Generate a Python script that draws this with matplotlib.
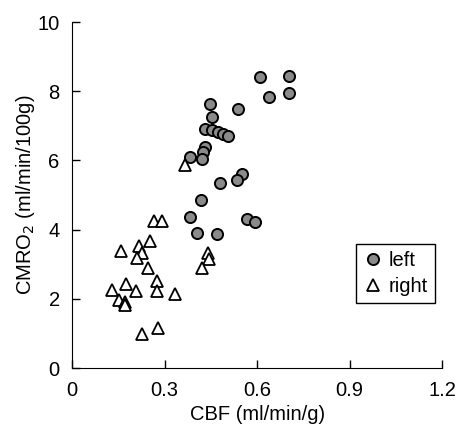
import matplotlib.pyplot as plt

plt.rcParams['font.family'] = ['Liberation Sans', 'DejaVu Sans']

# left hemisphere (circles)
left_cbf = [0.61, 0.704, 0.639, 0.704, 0.448, 0.538, 0.454,
            0.431, 0.452, 0.472, 0.49, 0.507,
            0.431, 0.425, 0.383, 0.422,
            0.551, 0.535, 0.48, 0.418, 0.383, 0.568, 0.594, 0.405, 0.47]
left_cmro2 = [8.41, 8.44, 7.83, 7.95, 7.63, 7.49, 7.25,
              6.91, 6.87, 6.83, 6.77, 6.7,
              6.39, 6.24, 6.1, 6.04,
              5.6, 5.43, 5.35, 4.86, 4.36, 4.3, 4.22, 3.9, 3.87]

# right hemisphere (triangles)
right_cbf = [0.367, 0.266, 0.292, 0.253, 0.159, 0.217, 0.227, 0.211, 0.246,
             0.441, 0.444, 0.422, 0.276, 0.276, 0.175, 0.13, 0.208, 0.334,
             0.152, 0.172, 0.172, 0.227, 0.279]
right_cmro2 = [5.87, 4.25, 4.25, 3.67, 3.38, 3.53, 3.32, 3.18, 2.89,
               3.32, 3.15, 2.89, 2.51, 2.23, 2.43, 2.25, 2.23, 2.14,
               1.97, 1.91, 1.82, 0.98, 1.16]

x_ticks = [0, 0.3, 0.6, 0.9, 1.2]
x_labels = ['0', '0.3', '0.6', '0.9', '1.2']
y_ticks = [0, 2, 4, 6, 8, 10]

fs = 14.5

fig = plt.figure(figsize=(4.6, 4.25), dpi=100)
ax = fig.add_axes([0.157, 0.134, 0.804, 0.814])

ax.plot(left_cbf, left_cmro2, 'o', color='#8a8a8a', markeredgecolor='black',
        markeredgewidth=1.4, markersize=8, label='left')
ax.plot(right_cbf, right_cmro2, '^', color='white', markeredgecolor='black',
        markeredgewidth=1.3, markersize=9, label='right')

ax.set_xlim(0, 1.2)
ax.set_ylim(0, 10)
ax.set_xticks(x_ticks)
ax.set_xticklabels(x_labels)
ax.set_yticks(y_ticks)
ax.tick_params(direction='in', length=6, width=1, labelsize=fs)
ax.tick_params(axis='x', pad=9)
ax.tick_params(axis='y', pad=9)
ax.spines['top'].set_visible(False)
ax.spines['right'].set_visible(False)

ax.set_xlabel('CBF (ml/min/g)', fontsize=fs, labelpad=4)
ax.set_ylabel('CMRO$_2$ (ml/min/100g)', fontsize=fs, labelpad=0)

leg = ax.legend(loc='lower right', bbox_to_anchor=(0.981, 0.188), borderaxespad=0,
                fancybox=False, edgecolor='black', fontsize=fs, handletextpad=0.3,
                handlelength=1.0, borderpad=0.35, labelspacing=0.35, framealpha=1)
leg.get_frame().set_linewidth(1)

fig.savefig('out.png', dpi=100)
